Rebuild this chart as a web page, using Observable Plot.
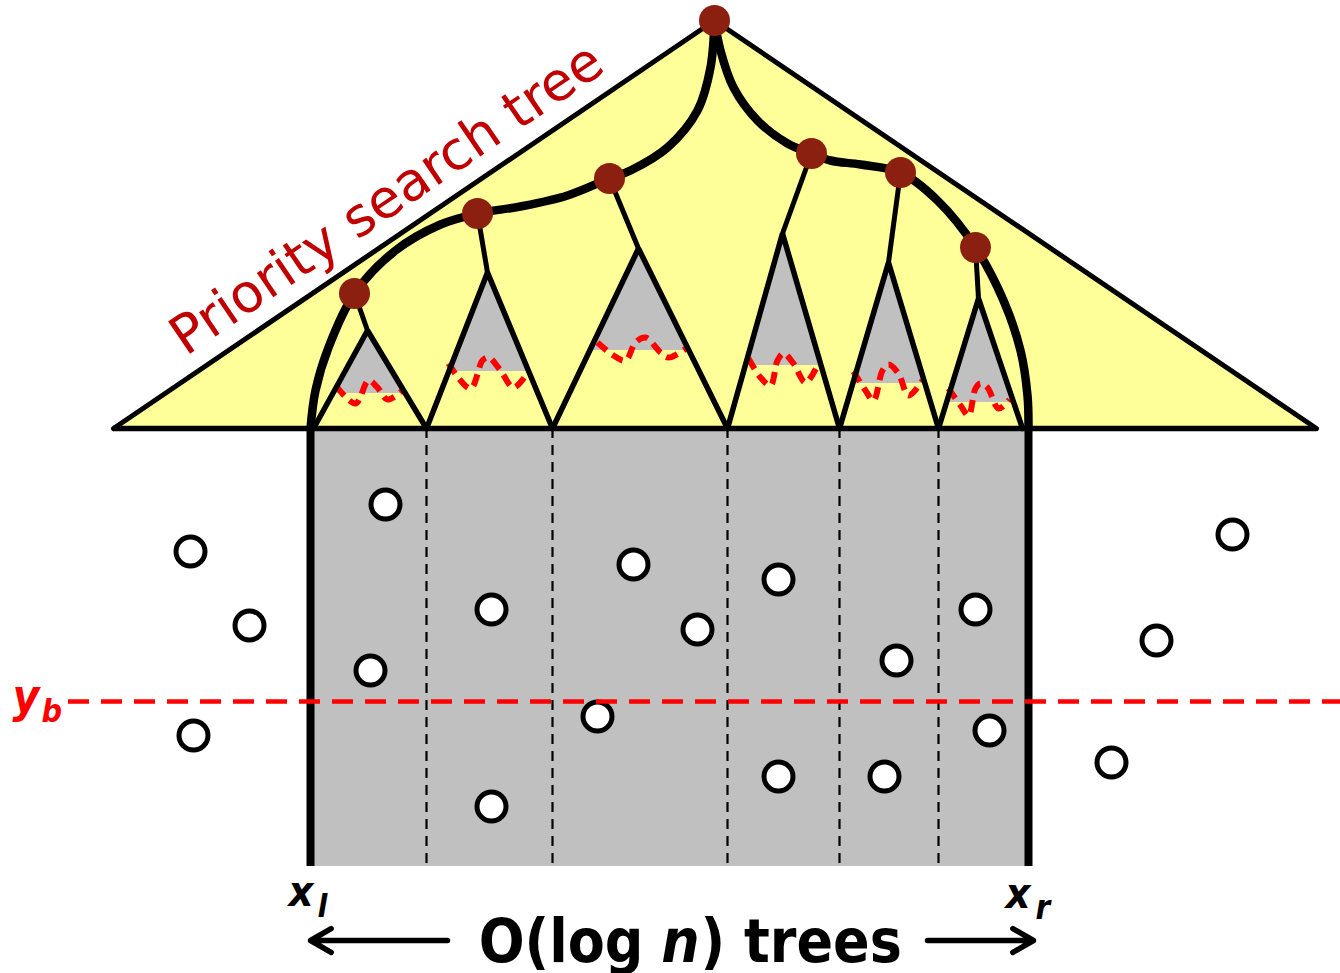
<!DOCTYPE html>
<html><head><meta charset="utf-8">
<script src="https://cdn.jsdelivr.net/npm/d3@7"></script>
<script src="https://cdn.jsdelivr.net/npm/@observablehq/plot@0.6"></script>
<style>html,body{margin:0;padding:0;background:#fff;overflow:hidden}</style>
</head><body><div id="chart"></div>
<script>
// ---- data (pixel units of the figure) ----
const outerTree = [[113,428],[714,20],[1316,428]];
const baseY = 428, floorY = 866;
const xLeft = 310, xRight = 1028, yBottom = 701;
const slabBounds = [426,552,727,839,938];
// subtree: apex, base left, base right, level of grey cut
const subtreeApex  = [[367,330],[487,272],[638,248],[782,233],[888,262],[978,298]];
const subtreeBase  = [[313,426],[426,552],[552,727],[727,839],[839,938],[938,1022]];
const subtreeCut   = [393,371,350,365,383,402];
const treeNodes = [[714,20],[354,293],[477,213],[609,178],[811,153],[900,172],[975,247]];
const connectorFrom = [[354,293],[477,213],[609,178],[811,153],[900,172],[975,247]];
const leftPath = [[714,20],[710,67],[697,110],[667,147],[630,170],[609,178],[567,195],[520,206],[477,213],[440,224],[395,250],[354,293],[328,347],[315,390],[310,428]];
const rightPath = [[714,20],[720,50],[733,87],[757,120],[787,143],[811,153],[830,160],[860,164],[900,172],[937,200],[975,247],[1003,300],[1020,350],[1027,395],[1028,428]];
const waves = [
  [[336,386],[355,403],[368,380],[377,387],[387,399],[402,390]],
  [[448,363],[470,388],[482,360],[488,357],[500,370],[513,387],[528,371]],
  [[597,342],[613,355],[625,360],[635,342],[645,337],[660,352],[668,357],[687,347]],
  [[748,358],[760,377],[770,385],[777,360],[783,353],[793,363],[805,382],[817,365]],
  [[853,371],[865,390],[873,400],[882,370],[888,364],[898,373],[908,395],[922,380]],
  [[948,388],[960,405],[968,415],[975,388],[980,383],[987,387],[998,408],[1009,399]]
];
const pointsX = [190,249,193,385,370,491,491,633,697,597,778,778,896,884,975,989,1232,1156,1111];
const pointsY = [551,625,735,504,670,609,806,564,629,716,579,776,660,776,609,730,534,640,762];

// ---- derived tables ----
const P = ([x,y]) => ({x,y});
const outerRows = outerTree.map(P);
const greyRows = [], outlineRows = [];
subtreeApex.forEach(([ax,ay],i) => {
  const [bl,br] = subtreeBase[i], g = subtreeCut[i];
  const t = (g - ay) / (baseY - ay);
  greyRows.push({t:i, x: ax + (bl-ax)*t, y1:g, y2:g});
  greyRows.push({t:i, x: ax, y1:g, y2:ay});
  greyRows.push({t:i, x: ax + (br-ax)*t, y1:g, y2:g});
  outlineRows.push({t:i,x:bl,y:baseY},{t:i,x:ax,y:ay},{t:i,x:br,y:baseY});
});
const connectorRows = connectorFrom.map(([x1,y1],i)=>({x1,y1,x2:subtreeApex[i][0],y2:subtreeApex[i][1]}));
const waveRows = waves.flatMap((w,i)=>w.map(([x,y])=>({t:i,x,y})));
const pointRows = pointsX.map((x,i)=>({x,y:pointsY[i]}));

const W = 1340, H = 973;
const bold = "'DejaVu Sans Condensed','DejaVu Sans',sans-serif";
const chart = Plot.plot({
  width: W, height: H, margin: 0,
  x: {domain:[0,W], range:[0,W], axis:null},
  y: {domain:[0,H], range:[0,H], axis:null},
  style: {background:"white", overflow:"visible"},
  marks: [
    Plot.areaY(outerRows, {x:"x", y1:baseY, y2:"y", fill:"#ffff9a", curve:"linear"}),
    Plot.rect([0], {x1:xLeft, x2:xRight, y1:baseY, y2:floorY, fill:"#c0c0c0"}),
    Plot.areaY(greyRows, {x:"x", y1:"y1", y2:"y2", z:"t", fill:"#c0c0c0", curve:"linear"}),
    Plot.line(outerRows, {x:"x", y:"y", stroke:"black", strokeWidth:5}),
    Plot.ruleX(slabBounds, {y1:baseY, y2:floorY+2, stroke:"black", strokeWidth:2.2, strokeDasharray:"10,7"}),
    Plot.ruleX([xLeft, xRight], {y1:baseY, y2:floorY, stroke:"black", strokeWidth:8}),
    Plot.ruleY([baseY], {x1:113, x2:1316, stroke:"black", strokeWidth:5.5}),
    Plot.line(waveRows, {x:"x", y:"y", z:"t", stroke:"#ff0000", strokeWidth:6, strokeDasharray:"12,7", curve:"catmull-rom", strokeLinecap:"butt"}),
    Plot.line(outlineRows, {x:"x", y:"y", z:"t", stroke:"black", strokeWidth:5.5, strokeLinejoin:"miter"}),
    Plot.link(connectorRows, {x1:"x1", y1:"y1", x2:"x2", y2:"y2", stroke:"black", strokeWidth:5}),
    Plot.line(leftPath.map(P), {x:"x", y:"y", stroke:"black", strokeWidth:8.5, curve:"catmull-rom"}),
    Plot.line(rightPath.map(P), {x:"x", y:"y", stroke:"black", strokeWidth:8.5, curve:"catmull-rom"}),
    Plot.dot(treeNodes.map(P), {x:"x", y:"y", r:15.5, fill:"#8b2010", stroke:null}),
    Plot.dot(pointRows, {x:"x", y:"y", r:14.5, fill:"white", stroke:"black", strokeWidth:5}),
    Plot.ruleY([yBottom], {x1:68, x2:W, stroke:"#ff0000", strokeWidth:4.5, strokeDasharray:"21,12"}),
    Plot.text(["Priority search tree"], {x:396, y:213, text:d=>d, rotate:-34.2, textAnchor:"middle", lineAnchor:"bottom", fontSize:53.5, fill:"#c00000", fontFamily:"'DejaVu Sans',sans-serif"}),
    Plot.text(["y"], {x:12, y:711, text:d=>d, textAnchor:"start", lineAnchor:"bottom", fontSize:46, fontWeight:"bold", fontStyle:"italic", fill:"#ff0000", fontFamily:bold}),
    Plot.text(["b"], {x:41, y:721, text:d=>d, textAnchor:"start", lineAnchor:"bottom", fontSize:32, fontWeight:"bold", fontStyle:"italic", fill:"#ff0000", fontFamily:bold}),
    Plot.text(["x"], {x:288, y:905, text:d=>d, textAnchor:"start", lineAnchor:"bottom", fontSize:43, fontWeight:"bold", fontStyle:"italic", fill:"black", fontFamily:bold}),
    Plot.text(["l"], {x:317, y:916, text:d=>d, textAnchor:"start", lineAnchor:"bottom", fontSize:32, fontWeight:"bold", fontStyle:"italic", fill:"black", fontFamily:bold}),
    Plot.text(["x"], {x:1005, y:907, text:d=>d, textAnchor:"start", lineAnchor:"bottom", fontSize:43, fontWeight:"bold", fontStyle:"italic", fill:"black", fontFamily:bold}),
    Plot.text(["r"], {x:1035, y:918, text:d=>d, textAnchor:"start", lineAnchor:"bottom", fontSize:33, fontWeight:"bold", fontStyle:"italic", fill:"black", fontFamily:bold}),
    Plot.text(["O(log"], {x:643, y:961, text:d=>d, textAnchor:"end", lineAnchor:"bottom", fontSize:60, fontWeight:"bold", fill:"black", fontFamily:bold}),
    Plot.text(["n"], {x:680, y:961, text:d=>d, textAnchor:"middle", lineAnchor:"bottom", fontSize:60, fontWeight:"bold", fontStyle:"italic", fill:"black", fontFamily:bold}),
    Plot.text([") trees"], {x:700, y:961, text:d=>d, textAnchor:"start", lineAnchor:"bottom", fontSize:60, fontWeight:"bold", fill:"black", fontFamily:bold}),
    Plot.arrow([{x1:447,x2:310}], {x1:"x1", x2:"x2", y1:940, y2:940, stroke:"black", strokeWidth:5.5, headLength:6.5, headAngle:60}),
    Plot.arrow([{x1:927,x2:1033}], {x1:"x1", x2:"x2", y1:940, y2:940, stroke:"black", strokeWidth:5.5, headLength:6.5, headAngle:60})
  ]
});
document.getElementById("chart").appendChild(chart);
</script>
</body></html>
